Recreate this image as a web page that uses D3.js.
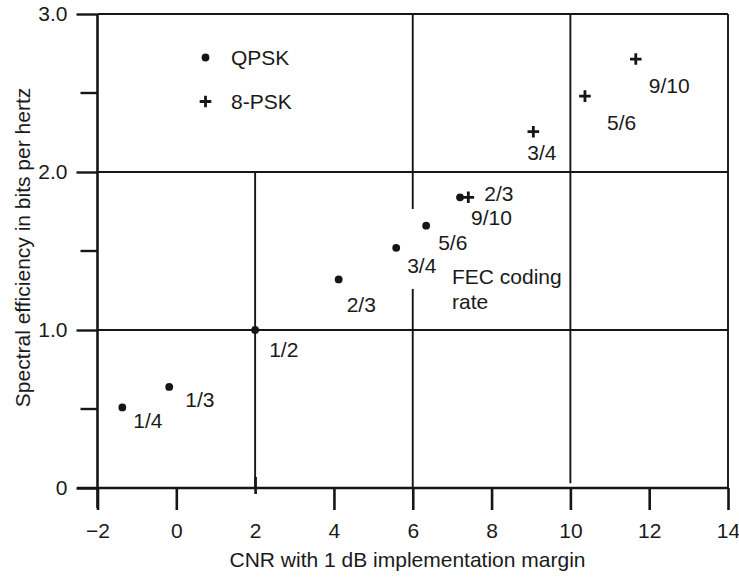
<!DOCTYPE html>
<html>
<head>
<meta charset="utf-8">
<script src="https://cdn.jsdelivr.net/npm/d3@7"></script>
<style>
  html, body { margin: 0; padding: 0; background: #fff; }
  svg { display: block; }
  text { font-family: "Liberation Sans", Arial, Helvetica, sans-serif; fill: #1a1a1a; }
</style>
</head>
<body>
<svg id="chart" width="739" height="582"></svg>
<script>
// DVB-S2 style operating points: QPSK and 8-PSK at each FEC coding rate
const qpskRates = ["1/4", "1/3", "1/2", "2/3", "3/4", "5/6", "9/10"];
const qpskCnr   = [-1.37, -0.18, 2.0, 4.12, 5.58, 6.34, 7.20];
const qpskEff   = [0.51, 0.64, 1.0, 1.32, 1.52, 1.66, 1.84];

const psk8Rates = ["2/3", "3/4", "5/6", "9/10"];
const psk8Cnr   = [7.41, 9.06, 10.37, 11.66];
const psk8Eff   = [1.84, 2.255, 2.48, 2.715];

const xTickValues = [-2, 0, 2, 4, 6, 8, 10, 12, 14];
const yTickValues = [0, 1, 2, 3];
const yTickLabels = ["0", "1.0", "2.0", "3.0"];
const yMinorTicks = [0.5, 1.5, 2.5];

const legendNames = ["QPSK", "8-PSK"];
const xTitle = "CNR with 1 dB implementation margin";
const yTitle = "Spectral efficiency in bits per hertz";
const noteLines = ["FEC coding", "rate"];

// label placement (pixel offsets from each marker to the text's left baseline)
const qpskLabelOffsets = [[11, 21], [16, 20], [14, 27], [8, 33], [11, 25], [12, 24], [11, 28]];
const psk8LabelOffsets = [[16, 4], [-6, 28], [22, 34], [13, 34]];

const svg = d3.select("#chart");
const ink = "#161616";
const FONT = 21;

const x = d3.scaleLinear().domain([-2, 14]).range([97.5, 728]);
const y = d3.scaleLinear().domain([0, 3]).range([488, 14]);

// grid: horizontal lines at each whole unit, selected vertical dividers
const grid = svg.append("g").attr("stroke", ink).attr("stroke-width", 1.9);
[1, 2, 3].forEach(v => {
  grid.append("line")
    .attr("x1", x(-2)).attr("x2", x(14))
    .attr("y1", y(v)).attr("y2", y(v));
});
// vertical dividers as [xValue, yFrom, yTo] spans
const verticalSpans = [[2, 2, 0], [6, 3, 1.766], [6, 1.26, 0], [10, 3, 0.03], [14, 3, 0]];
verticalSpans.forEach(([xv, a, b]) => {
  grid.append("line")
    .attr("x1", x(xv)).attr("x2", x(xv))
    .attr("y1", y(a)).attr("y2", y(b));
});

// x axis
const xAxis = svg.append("g")
  .attr("transform", `translate(0,${y(0)})`)
  .call(d3.axisBottom(x).tickValues(xTickValues).tickSize(22).tickPadding(13)
    .tickFormat(d => d < 0 ? "\u2212" + Math.abs(d) : String(d)));
xAxis.select(".domain").remove();
xAxis.append("line")
  .attr("x1", 77).attr("x2", x(14))
  .attr("stroke", ink).attr("stroke-width", 2.4);
xAxis.selectAll(".tick line").attr("stroke", ink).attr("stroke-width", 2.6);
xAxis.selectAll(".tick").filter(d => d === 2).select("line")
  .attr("y1", -11).attr("y2", 6);
xAxis.selectAll(".tick text").attr("font-size", FONT).attr("fill", ink)
  .style("font-family", '"Liberation Sans", Arial, Helvetica, sans-serif');

// y axis
const yAxis = svg.append("g")
  .attr("transform", `translate(${x(-2)},0)`)
  .call(d3.axisLeft(y).tickValues(yTickValues).tickSize(21).tickPadding(9)
    .tickFormat((d, i) => yTickLabels[i]));
yAxis.select(".domain").remove();
yAxis.append("line")
  .attr("y1", y(3)).attr("y2", y(0) + 20)
  .attr("stroke", ink).attr("stroke-width", 2.6);
yAxis.selectAll(".tick line").attr("stroke", ink).attr("stroke-width", 2.4);
yAxis.selectAll(".tick text").attr("font-size", FONT).attr("fill", ink)
  .style("font-family", '"Liberation Sans", Arial, Helvetica, sans-serif');
yAxis.selectAll(".minor").data(yMinorTicks).enter().append("line")
  .attr("x1", -17).attr("x2", 0)
  .attr("y1", d => y(d)).attr("y2", d => y(d))
  .attr("stroke", ink).attr("stroke-width", 2.4);

// axis titles
svg.append("text")
  .attr("x", 407.5).attr("y", 567)
  .attr("text-anchor", "middle").attr("font-size", FONT)
  .text(xTitle);
svg.append("text")
  .attr("transform", "translate(30,247.5) rotate(-90)")
  .attr("text-anchor", "middle").attr("font-size", FONT)
  .text(yTitle);

// markers
const plusPath = s => `M${-s},0H${s}M0,${-s}V${s}`;
const drawDot = (g, cx, cy) => g.append("circle")
  .attr("cx", cx).attr("cy", cy).attr("r", 3.9).attr("fill", ink);
const drawPlus = (g, cx, cy) => g.append("path")
  .attr("transform", `translate(${cx},${cy})`)
  .attr("d", plusPath(5.8)).attr("stroke", ink).attr("stroke-width", 2.8)
  .attr("fill", "none");

const marks = svg.append("g");
qpskCnr.forEach((c, i) => {
  const px = x(c), py = y(qpskEff[i]);
  drawDot(marks, px, py);
  marks.append("text")
    .attr("x", px + qpskLabelOffsets[i][0]).attr("y", py + qpskLabelOffsets[i][1])
    .attr("font-size", FONT).text(qpskRates[i]);
});
psk8Cnr.forEach((c, i) => {
  const px = x(c), py = y(psk8Eff[i]);
  drawPlus(marks, px, py);
  marks.append("text")
    .attr("x", px + psk8LabelOffsets[i][0]).attr("y", py + psk8LabelOffsets[i][1])
    .attr("font-size", FONT).text(psk8Rates[i]);
});

// note beside the 5/6 and 3/4 points
noteLines.forEach((t, i) => {
  svg.append("text")
    .attr("x", 452).attr("y", 284 + i * 25)
    .attr("font-size", FONT).text(t);
});

// legend
const legend = svg.append("g");
drawDot(legend, 205.5, 57.5);
drawPlus(legend, 205.5, 101.5);
legendNames.forEach((n, i) => {
  legend.append("text")
    .attr("x", 231).attr("y", 65 + i * 43.5)
    .attr("font-size", FONT).text(n);
});
</script>
</body>
</html>
